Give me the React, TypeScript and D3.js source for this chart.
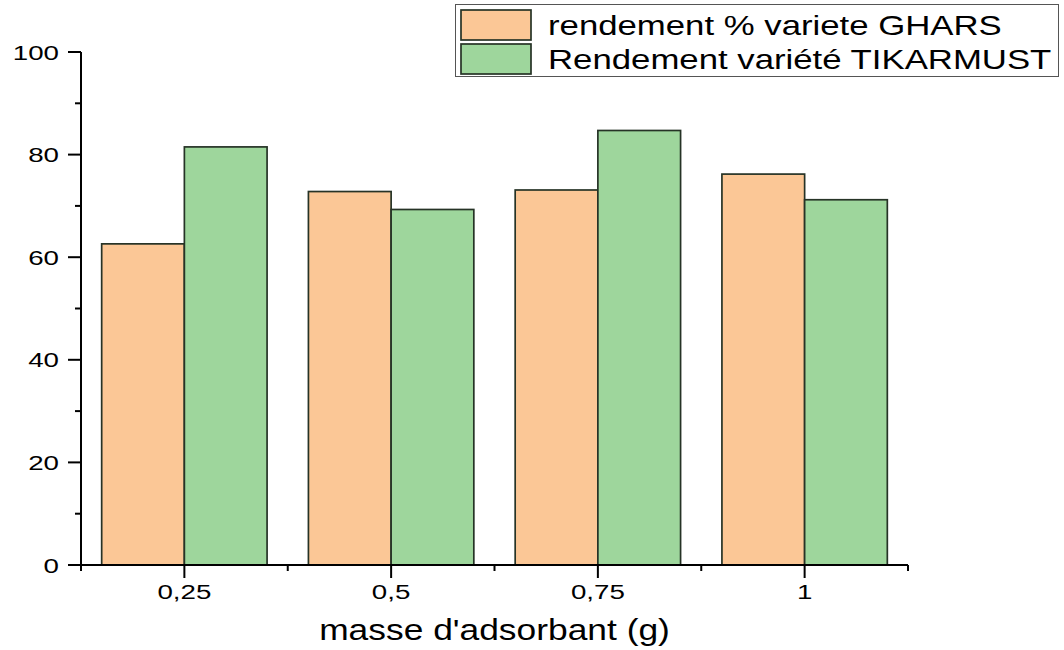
import React from "react";
import * as d3 from "d3";

const categories = [0.25, 0.5, 0.75, 1];
const categoryLabels = ["0,25", "0,5", "0,75", "1"];
const ghars = [62.6, 72.8, 73.1, 76.2];
const tikarmust = [81.5, 69.3, 84.7, 71.2];
const seriesNames = ["rendement % variete GHARS", "Rendement variété TIKARMUST"];
const seriesColors = ["#FBC796", "#9ED69C"];
const yMajorTicks = [0, 20, 40, 60, 80, 100];
const yMinorTicks = [10, 30, 50, 70, 90];
const xMinorTicks = [0.125, 0.375, 0.625, 0.875, 1.125];
const xTitle = "masse d'adsorbant (g)";

const W = 1064;
const H = 650;
const FONT = "'Liberation Sans', Arial, sans-serif";

const x = d3.scaleLinear().domain([0.125, 1.125]).range([81, 908]);
const y = d3.scaleLinear().domain([0, 100]).range([565, 52]);
const barW = 0.1;

function SText({ x: tx, y: ty, size, anchor, sx, children }: any) {
  return (
    <text
      transform={`translate(${tx},${ty}) scale(${sx},1)`}
      fontSize={size}
      fontFamily={FONT}
      textAnchor={anchor}
      fill="#000"
    >
      {children}
    </text>
  );
}

export default function App() {
  const series = [ghars, tikarmust];
  return (
    <div style={{ position: "absolute", left: 0, top: 0 }}>
      <svg width={W} height={H} style={{ display: "block", background: "#fff" }}>
        {series.map((vals, si) =>
          vals.map((v, i) => {
            const x0 = si === 0 ? x(categories[i] - barW) : x(categories[i]);
            const x1 = si === 0 ? x(categories[i]) : x(categories[i] + barW);
            return (
              <rect
                key={`${si}-${i}`}
                x={x0}
                y={y(v)}
                width={x1 - x0}
                height={y(0) - y(v)}
                fill={seriesColors[si]}
                stroke="#263326"
                strokeWidth={1.7}
              />
            );
          })
        )}
        {/* y axis */}
        <line x1={x(0.125)} x2={x(0.125)} y1={y(0) + 1} y2={y(100)} stroke="#000" strokeWidth={2} />
        {yMajorTicks.map((t) => (
          <g key={`ym${t}`}>
            <line x1={x(0.125) - 13} x2={x(0.125)} y1={y(t)} y2={y(t)} stroke="#000" strokeWidth={2} />
            <SText x={59} y={y(t) + 7.5} size={21} sx={1.32} anchor="end">
              {String(t)}
            </SText>
          </g>
        ))}
        {yMinorTicks.map((t) => (
          <line key={`yn${t}`} x1={x(0.125) - 6} x2={x(0.125)} y1={y(t)} y2={y(t)} stroke="#000" strokeWidth={2} />
        ))}
        {/* x axis */}
        <line x1={x(0.125) - 1} x2={x(1.125)} y1={y(0)} y2={y(0)} stroke="#000" strokeWidth={2} />
        {categories.map((c, i) => (
          <g key={`xm${c}`}>
            <line x1={x(c)} x2={x(c)} y1={y(0)} y2={y(0) + 13} stroke="#000" strokeWidth={2} />
            <SText x={x(c)} y={598.5} size={21} sx={1.32} anchor="middle">
              {categoryLabels[i]}
            </SText>
          </g>
        ))}
        {xMinorTicks.map((t) => (
          <line key={`xn${t}`} x1={x(t)} x2={x(t)} y1={y(0)} y2={y(0) + 6} stroke="#000" strokeWidth={2} />
        ))}
        <SText x={(x(0.125) + x(1.125)) / 2} y={640} size={29} sx={1.22} anchor="middle">
          {xTitle}
        </SText>
        {/* legend */}
        <rect x={455.5} y={4.5} width={603} height={72} fill="#fff" stroke="#555" strokeWidth={1} />
        {seriesNames.map((n, i) => (
          <g key={n}>
            <rect
              x={461}
              y={10 + i * 34}
              width={70}
              height={30}
              fill={seriesColors[i]}
              stroke="#263326"
              strokeWidth={1.7}
            />
            <SText x={548} y={35 + i * 34} size={28.5} sx={1.22} anchor="start">
              {n}
            </SText>
          </g>
        ))}
      </svg>
    </div>
  );
}
